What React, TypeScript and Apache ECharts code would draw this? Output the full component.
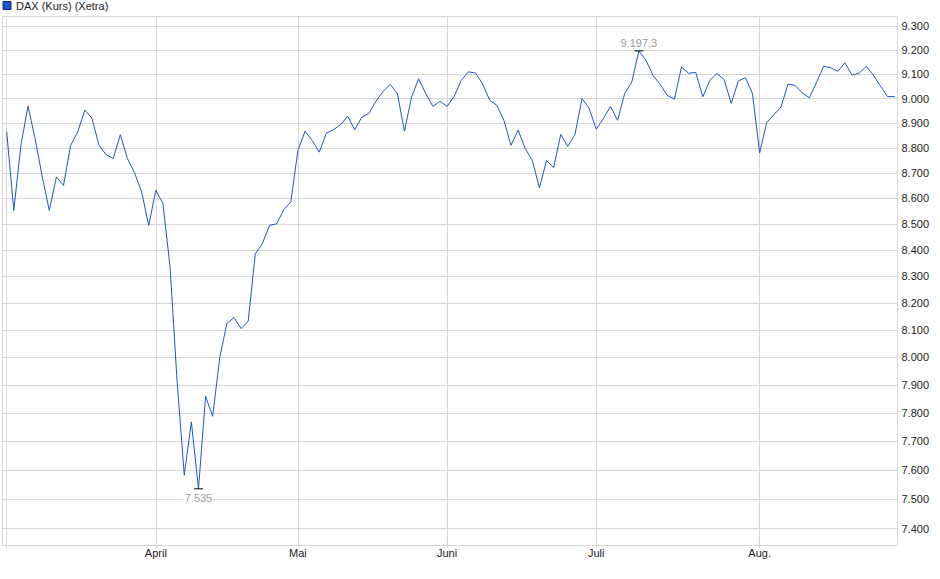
import React, { useEffect, useRef } from 'react';
import * as echarts from 'echarts';

const seriesName = 'DAX (Kurs) (Xetra)';

// Daily closing values (one per trading day, March – August)
const closeValues = [
  8865, 8553, 8810, 8969, 8837, 8686, 8553, 8684, 8651, 8810,
  8864, 8953, 8920, 8810, 8773, 8757, 8853, 8757, 8701, 8625,
  8495, 8632, 8579, 8335, 7910, 7582, 7768, 7535, 7859, 7788,
  8000, 8124, 8146, 8105, 8133, 8386, 8425, 8495, 8501, 8556,
  8586, 8790, 8867, 8830, 8783, 8859, 8873, 8893, 8928, 8873,
  8924, 8940, 8989, 9030, 9058, 9020, 8867, 9006, 9081, 9020,
  8968, 8989, 8968, 9009, 9075, 9110, 9105, 9060, 8993, 8972,
  8911, 8810, 8872, 8797, 8750, 8641, 8750, 8721, 8854, 8806,
  8854, 9000, 8960, 8875, 8918, 8968, 8911, 9020, 9068, 9197.3,
  9158, 9095, 9058, 9013, 8997, 9130, 9104, 9108, 9007, 9075,
  9103, 9078, 8980, 9072, 9086, 9020, 8780, 8902, 8934, 8965,
  9060, 9054, 9023, 9003, 9066, 9133, 9127, 9112, 9148, 9097,
  9104, 9133, 9097, 9051, 9008, 9008,
];

// First trading day of each month (index into closeValues)
const monthStarts = [21, 41, 62, 83, 106];
const monthLabels = ['April', 'Mai', 'Juni', 'Juli', 'Aug.'];
const tickIndices = [0, 21, 41, 62, 83, 106];

const yTicks = [
  7400, 7500, 7600, 7700, 7800, 7900, 8000, 8100, 8200, 8300,
  8400, 8500, 8600, 8700, 8800, 8900, 9000, 9100, 9200, 9300,
];
const yMin = 7343;
const yMax = 9342.4;

const FONT = '"Liberation Sans", Arial, Helvetica, sans-serif';
const LINE = '#1a58c6';
const GRID = '#d7d7d7';
const TEXT = '#222';

function fmtDe(v: number): string {
  const r = Math.round(Math.abs(v) * 10) / 10;
  const ip = Math.floor(r);
  const frac = Math.round((r - ip) * 10);
  const s = String(ip).replace(/\B(?=(\d{3})+(?!\d))/g, '.');
  return (v < 0 ? '-' : '') + s + (frac ? ',' + frac : '');
}

export default function App() {
  const ref = useRef<HTMLDivElement>(null);
  useEffect(() => {
    if (!ref.current) return;
    const chart = echarts.init(ref.current, undefined, { renderer: 'svg' });
    const option: any = {
      animation: false,
      textStyle: { fontFamily: FONT },
      legend: {
        show: true,
        left: 2.5,
        top: 0,
        padding: 0,
        itemWidth: 8,
        itemHeight: 8,
        icon: 'rect',
        data: [seriesName],
        itemStyle: { color: LINE, borderColor: '#0b2a66', borderWidth: 1 },
        textStyle: { fontSize: 11, color: TEXT, fontFamily: FONT },
      },
      grid: {
        left: 2.5,
        right: 42.5,
        top: 16.5,
        bottom: 33.5,
        show: true,
        borderColor: GRID,
        borderWidth: 1,
        backgroundColor: 'transparent',
      },
      xAxis: {
        type: 'value',
        min: -0.59,
        max: closeValues.length - 1 + 0.41,
        axisLine: { show: false },
        axisTick: {
          show: true,
          length: 3,
          lineStyle: { color: GRID },
          customValues: tickIndices,
        },
        axisLabel: {
          customValues: monthStarts,
          formatter: (v: number) => {
            const k = monthStarts.indexOf(Math.round(v));
            return k >= 0 ? monthLabels[k] : '';
          },
          margin: 2,
          fontSize: 11,
          color: TEXT,
          fontFamily: FONT,
        },
        splitLine: { show: true, lineStyle: { color: GRID, width: 1 } },
      },
      yAxis: {
        type: 'log',
        logBase: 10,
        position: 'right',
        min: yMin,
        max: yMax,
        axisLine: { show: false },
        axisTick: { show: false, customValues: yTicks },
        axisLabel: {
          customValues: yTicks,
          formatter: (v: number) => fmtDe(Math.round(v)),
          margin: 4,
          fontSize: 11,
          color: TEXT,
          fontFamily: FONT,
        },
        splitLine: { show: true, lineStyle: { color: GRID, width: 1 } },
      },
      series: [
        {
          name: seriesName,
          type: 'line',
          data: closeValues.map((v, i) => [i, v]),
          showSymbol: false,
          symbol: 'none',
          lineStyle: { color: LINE, width: 1 },
          itemStyle: { color: LINE },
          markPoint: {
            symbol: 'rect',
            symbolSize: [9, 1],
            itemStyle: { color: '#000' },
            label: {
              show: true,
              color: '#9a9a9a',
              fontSize: 11,
              fontFamily: FONT,
              backgroundColor: '#fff',
              padding: [0, 1],
              formatter: (p: any) => fmtDe(Array.isArray(p.value) ? p.value[1] : p.value),
            },
            data: [
              { type: 'min', valueDim: 'y', label: { position: 'bottom', distance: 3 } },
              { type: 'max', valueDim: 'y', label: { position: 'top', distance: 2 } },
            ],
          },
        },
      ],
    };
    chart.setOption(option);
    return () => chart.dispose();
  }, []);
  return (
    <div
      ref={ref}
      style={{ position: 'fixed', left: 0, top: 0, width: 940, height: 579, background: '#fff' }}
    />
  );
}
